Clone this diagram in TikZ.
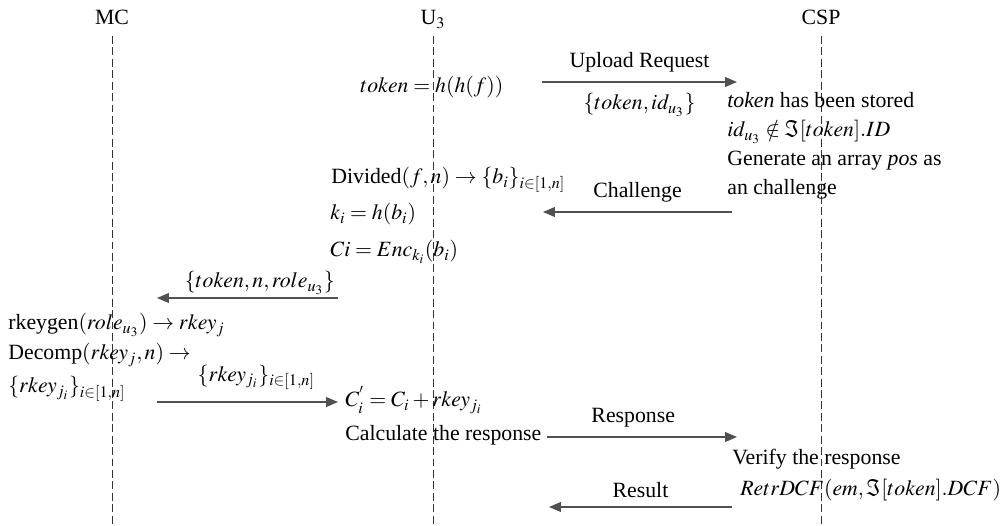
\documentclass[tikz,border=0pt]{standalone}
\usepackage{mathptmx}
\usepackage{fontspec}
\setmainfont{Liberation Serif}
\usepackage{tikz}
\usetikzlibrary{arrows.meta,positioning}
\definecolor{seqline}{HTML}{333333}
\definecolor{seqmsg}{HTML}{505050}

\begin{document}
\begin{tikzpicture}[
        x=0.02cm, y=-0.02cm,
        every node/.style={font=\fontsize{12.4}{15}\selectfont, inner sep=0pt},
        party/.style={anchor=base},
        lifeline/.style={draw=seqline, line width=0.5pt, dash pattern=on 4.5pt off 2pt},
        note/.style={anchor=base west},
        msg/.style={-{Triangle[length=6.8pt,width=5.6pt]}, draw=seqmsg, line width=0.75pt},
        msglabel/.style={midway, anchor=base, yshift=#1},
        msglabel/.default=8.5pt
    ]
        \useasboundingbox (0,0) rectangle (1004,526);

        % parties and their lifelines
        \node[party] (mc) at (112,25) {MC};
        \node[party] (user) at (433,25) {U$_3$};
        \node[party] (csp) at (821,25) {CSP};
        \coordinate (mc-top) at (112,36);   \coordinate (mc-bot) at (112,526);
        \coordinate (user-top) at (433,36); \coordinate (user-bot) at (433,526);
        \coordinate (csp-top) at (821,36);  \coordinate (csp-bot) at (821,526);
        \draw[lifeline] (mc-top) -- (mc-bot);
        \draw[lifeline] (user-top) -- (user-bot);
        \draw[lifeline] (csp-top) -- (csp-bot);

        % upload request
        \node[note] (tok) at (360,93) {$token = h(h(f))$};
        \coordinate (up-s) at (542,82);
        \coordinate (up-e) at (737,82);
        \draw[msg] (up-s) -- node[msglabel] {Upload Request}
            node[msglabel=-15.9pt] (upid) {$\{token, id_{u_3}\}$} (up-e);

        \node[note] (stored) at (727,108) {\textit{token} has been stored};
        \node[note] (notin) at (727,137) {$id_{u_3} \notin \Im[token].ID$};
        \node[note] (gen) at (727,166) {Generate an array \textit{pos} as};
        \node[note] (chal) at (727,195) {an challenge};

        % challenge
        \coordinate (ch-s) at (732,212);
        \coordinate (ch-e) at (543,212);
        \draw[msg] (ch-s) -- node[msglabel] {Challenge} (ch-e);

        \node[note] (divide) at (331,184) {Divided$(f,n) \rightarrow \{b_i\}_{i\in[1,n]}$};
        \node[note] (hash) at (330,220) {$k_i = h(b_i)$};
        \node[note] (enc) at (330,257) {$Ci = Enc_{k_i}(b_i)$};

        % key request to MC
        \coordinate (role-s) at (338,298);
        \coordinate (role-e) at (157,298);
        \draw[msg] (role-s) -- node[msglabel=5.7pt, xshift=7pt] {$\{token, n, role_{u_3}\}$} (role-e);

        \node[note] (keygen) at (8,330) {rkeygen$(role_{u_3}) \rightarrow rkey_j$};
        \node[note] (decomp) at (8,360) {Decomp$(rkey_j, n) \rightarrow$};
        \node[note] (parts) at (8,393) {$\{rkey_{j_i}\}_{i\in[1,n]}$};

        % key parts back to user
        \coordinate (rk-s) at (157,402);
        \coordinate (rk-e) at (338,402);
        \draw[msg] (rk-s) -- node[msglabel=11.9pt, xshift=5pt] {$\{rkey_{j_i}\}_{i\in[1,n]}$} (rk-e);

        \node[note] (blind) at (345,407) {$C_i^{'} = C_i + rkey_{j_i}$};
        \node[note] (calc) at (345,441) {Calculate the response};

        % response
        \coordinate (resp-s) at (547,437);
        \coordinate (resp-e) at (737,437);
        \draw[msg] (resp-s) -- node[msglabel, xshift=-5pt] {Response} (resp-e);

        \node[note] (verify) at (732,465) {Verify the response};
        \node[note] (retr) at (740,496) {$RetrDCF(em, \Im[token].DCF)$};

        % result
        \coordinate (res-s) at (732,507);
        \coordinate (res-e) at (549,507);
        \draw[msg] (res-s) -- node[msglabel=5.4pt] {Result} (res-e);
    \end{tikzpicture}
\end{document}
